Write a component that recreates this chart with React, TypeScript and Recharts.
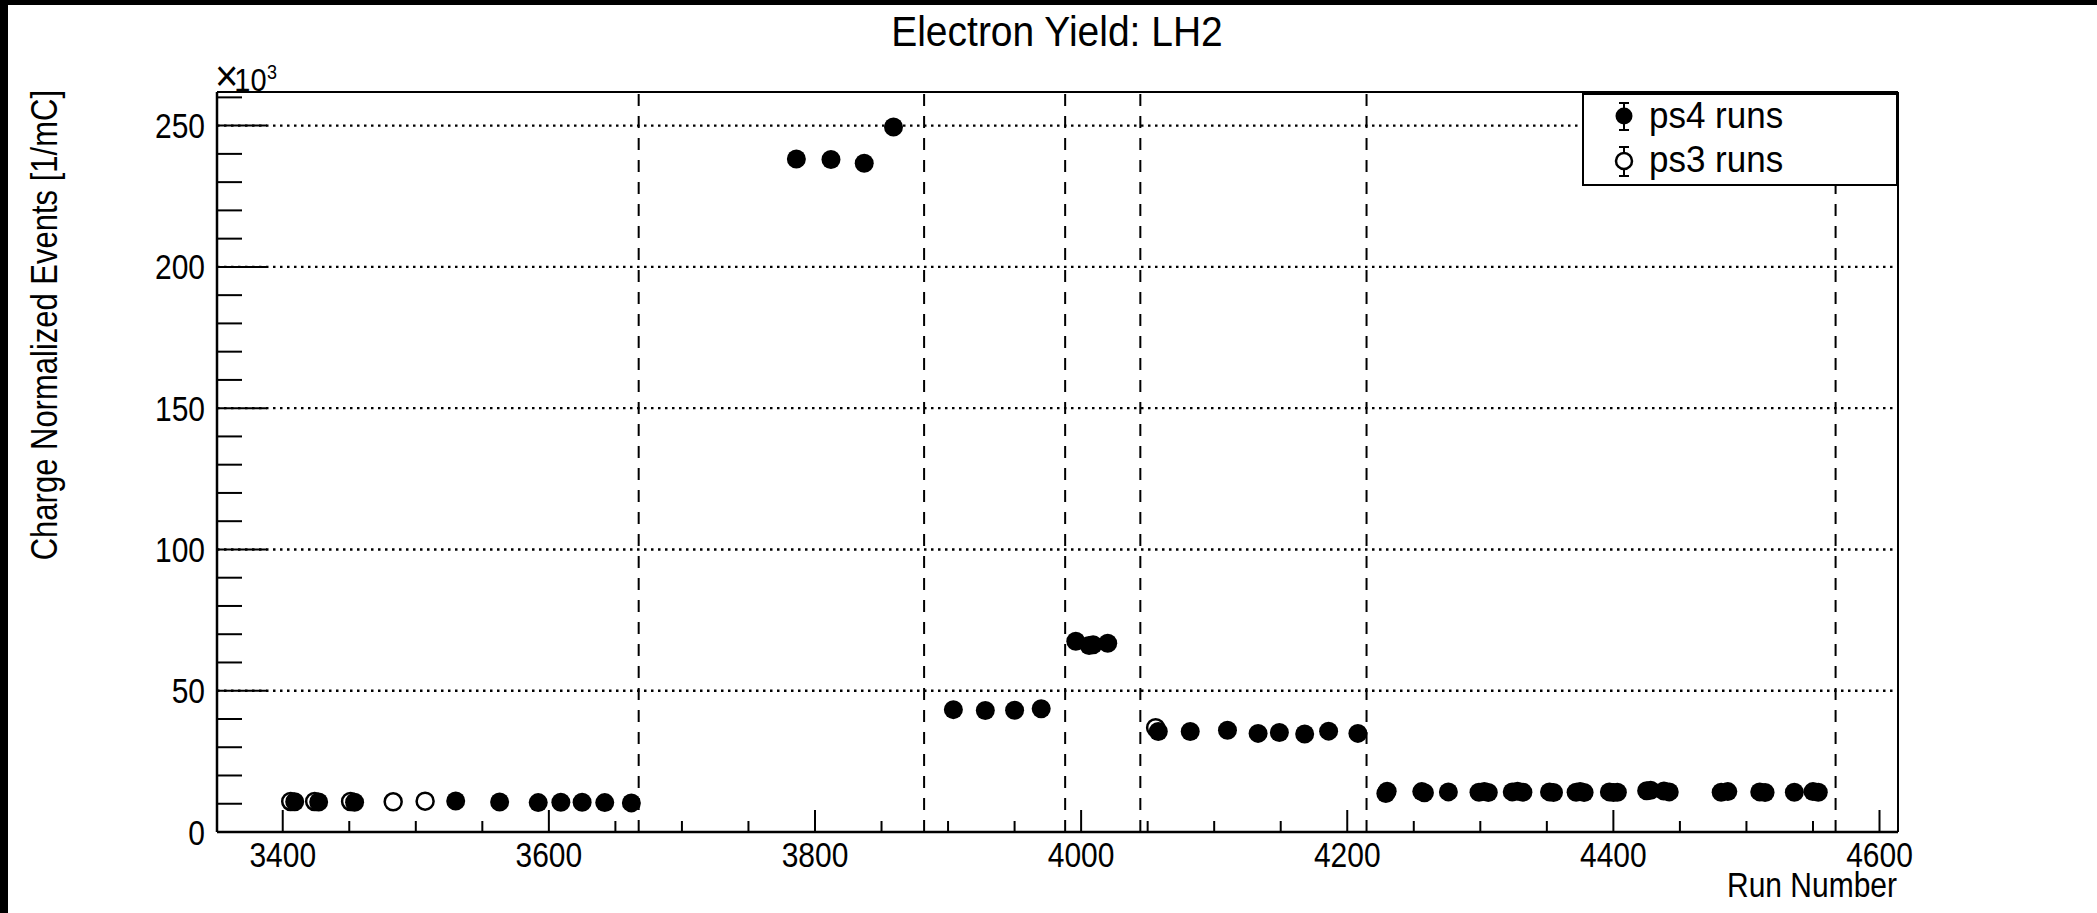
import React from 'react';
import { ScatterChart, Scatter, XAxis, YAxis, ReferenceLine, Legend } from 'recharts';

const FONT = '"Liberation Sans", Arial, Helvetica, sans-serif';

// ---- data (run number, charge-normalized yield in units of 10^3 / mC) ----
const ps4Runs = [
  3409, 3427, 3454, 3530, 3563, 3592, 3609, 3625, 3642, 3662,
  3786, 3812, 3837, 3859,
  3904, 3928, 3950, 3970,
  3996, 4006, 4009, 4020,
  4058, 4082, 4110, 4133, 4149, 4168, 4186, 4208,
  4229, 4230, 4256, 4258, 4276, 4299, 4303, 4306, 4324, 4328, 4332,
  4352, 4355, 4372, 4375, 4378, 4397, 4400, 4403, 4425, 4428, 4438, 4442,
  4481, 4486, 4510, 4514, 4536, 4550, 4554,
];
const ps4Yield = [
  10.7, 10.6, 10.5, 11.0, 10.6, 10.4, 10.5, 10.5, 10.4, 10.3,
  238.2, 238.0, 236.7, 249.5,
  43.3, 43.0, 43.1, 43.6,
  67.5, 66.0, 66.3, 66.8,
  35.6, 35.6, 36.0, 34.9, 35.2, 34.7, 35.7, 34.9,
  13.6, 14.4, 14.3, 13.9, 14.2, 14.1, 14.3, 14.0, 14.2, 14.4, 14.1,
  14.2, 14.0, 14.1, 14.3, 14.0, 14.2, 14.0, 14.1, 14.6, 14.8, 14.5, 14.2,
  14.1, 14.3, 14.2, 14.0, 14.1, 14.3, 14.1,
];
const ps3Runs = [3406, 3424, 3451, 3483, 3507, 4056];
const ps3Yield = [10.8, 10.8, 10.8, 10.7, 10.9, 36.9];

const boundaryRuns = [3667.5, 3882, 3988, 4044.5, 4214.5, 4567];

const xMajorTicks = [3400, 3600, 3800, 4000, 4200, 4400, 4600];
const yMajorTicks = [0, 50, 100, 150, 200, 250];
const yGridValues = [50, 100, 150, 200, 250];
const X_DOMAIN: [number, number] = [3350.6, 4613.9];
const Y_DOMAIN: [number, number] = [0, 261.9];

const xTicks: number[] = [];
for (let v = 3400; v <= 4600; v += 50) xTicks.push(v);
const yTicks: number[] = [];
for (let v = 0; v <= 260; v += 10) yTicks.push(v);

const ps4Data = ps4Runs.map((r, i) => ({ run: r, y: ps4Yield[i] }));
const ps3Data = ps3Runs.map((r, i) => ({ run: r, y: ps3Yield[i] }));

// text with a slightly taller glyph shape (like the original's Helvetica rendering)
const T = ({ x, y, size, anchor = 'start', rot = 0, sy = 1.15, baseline, children }: any) => (
  <text
    transform={`translate(${x} ${y}) rotate(${rot}) scale(1 ${sy})`}
    x={0}
    y={0}
    fontSize={size}
    textAnchor={anchor}
    dominantBaseline={baseline}
    fontFamily={FONT}
    fill="#000"
  >
    {children}
  </text>
);

const XTick = (props: any) => {
  const { x, y, payload } = props;
  const v = payload.value;
  const major = xMajorTicks.includes(v);
  const len = major ? 22 : 11;
  return (
    <g>
      <line x1={x} x2={x} y1={y} y2={y - len} stroke="#000" strokeWidth={2} />
      {major && <T x={x} y={y + 35} size={30} anchor="middle" sy={1.18}>{v}</T>}
    </g>
  );
};

const YTick = (props: any) => {
  const { x, y, payload } = props;
  const v = payload.value;
  const major = yMajorTicks.includes(v);
  const len = major ? 50 : 25;
  return (
    <g>
      <line x1={x} x2={x + len} y1={y} y2={y} stroke="#000" strokeWidth={2} />
      {major && <T x={x - 12} y={y + 12.5} size={30} anchor="end" sy={1.18}>{v}</T>}
    </g>
  );
};

const FilledDot = (p: any) => <circle cx={p.cx} cy={p.cy} r={9.5} fill="#000" />;
const OpenDot = (p: any) => (
  <circle cx={p.cx} cy={p.cy} r={8.5} fill="none" stroke="#000" strokeWidth={2.5} />
);

const LegendBox = () => (
  <svg width={316} height={93} style={{ display: 'block' }}>
    <rect x={1} y={1} width={314} height={91} fill="#fff" stroke="#000" strokeWidth={2} />
    <line x1={42} x2={42} y1={10} y2={37} stroke="#000" strokeWidth={2} />
    <line x1={37} x2={47} y1={10} y2={10} stroke="#000" strokeWidth={2} />
    <line x1={37} x2={47} y1={37} y2={37} stroke="#000" strokeWidth={2} />
    <circle cx={42} cy={23} r={8.5} fill="#000" />
    <T x={67} y={35} size={35} sy={1.08}>ps4 runs</T>
    <line x1={42} x2={42} y1={54} y2={83} stroke="#000" strokeWidth={2} />
    <line x1={37} x2={47} y1={54} y2={54} stroke="#000" strokeWidth={2} />
    <line x1={37} x2={47} y1={83} y2={83} stroke="#000" strokeWidth={2} />
    <circle cx={42} cy={68} r={8} fill="#fff" stroke="#000" strokeWidth={2.5} />
    <T x={67} y={79} size={35} sy={1.08}>ps3 runs</T>
  </svg>
);

export default function App() {
  return (
    <div style={{ position: 'absolute', left: 0, top: 0, width: 2097, height: 913, background: '#fff', overflow: 'hidden' }}>
      <ScatterChart
        width={2097}
        height={913}
        margin={{ top: 92, right: 199, bottom: 0, left: 0 }}
      >
        <XAxis
          type="number"
          dataKey="run"
          domain={X_DOMAIN}
          allowDataOverflow
          ticks={xTicks}
          interval={0}
          tickSize={0}
          tickMargin={0}
          tickLine={false}
          tick={<XTick />}
          axisLine={{ stroke: '#000', strokeWidth: 2.5 }}
          height={81}
        />
        <YAxis
          type="number"
          dataKey="y"
          domain={Y_DOMAIN}
          allowDataOverflow
          ticks={yTicks}
          interval={0}
          tickSize={0}
          tickMargin={0}
          tickLine={false}
          tick={<YTick />}
          axisLine={{ stroke: '#000', strokeWidth: 2.5 }}
          width={217}
        />
        {yGridValues.map((v) => (
          <ReferenceLine key={'g' + v} y={v} stroke="#000" strokeWidth={2.4} strokeDasharray="2.5 4.5" />
        ))}
        {boundaryRuns.map((v) => (
          <ReferenceLine key={'b' + v} x={v} stroke="#000" strokeWidth={2} strokeDasharray="12 10" />
        ))}
        <ReferenceLine y={Y_DOMAIN[1]} stroke="#000" strokeWidth={2} ifOverflow="visible" />
        <ReferenceLine x={X_DOMAIN[1]} stroke="#000" strokeWidth={2} ifOverflow="visible" />
        <Scatter name="ps3 runs" data={ps3Data} shape={<OpenDot />} isAnimationActive={false} />
        <Scatter name="ps4 runs" data={ps4Data} shape={<FilledDot />} isAnimationActive={false} />
        <Legend
          layout="horizontal"
          verticalAlign="middle"
          align="center"
          wrapperStyle={{ left: 1582, top: 93, width: 316, height: 93 }}
          content={() => <LegendBox />}
        />
      </ScatterChart>
      <svg width={2097} height={913} style={{ position: 'absolute', left: 0, top: 0, pointerEvents: 'none' }}>
        <rect x={0} y={0} width={2097} height={5} fill="#000" />
        <rect x={0} y={0} width={8} height={913} fill="#000" />
        <T x={1057} y={46} size={39} anchor="middle" sy={1.1}>Electron Yield: LH2</T>
        <T x={1897} y={897} size={30} anchor="end" sy={1.18}>Run Number</T>
        <T x={44} y={90} size={31} anchor="end" rot={-90} sy={1.2} baseline="central">
          Charge Normalized Events [1/mC]
        </T>
        <T x={215} y={91} size={29} sy={1.1}>
          <tspan fontSize={40}>×</tspan>
          <tspan dx={-4}>10</tspan>
        </T>
        <T x={267} y={79} size={18} sy={1.1}>3</T>
      </svg>
    </div>
  );
}
